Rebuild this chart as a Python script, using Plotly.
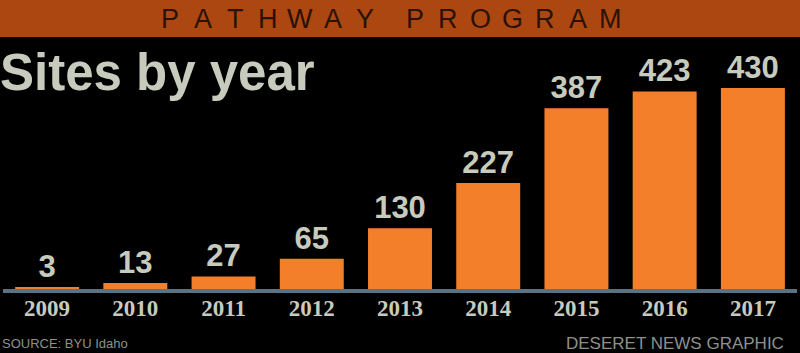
import plotly.graph_objects as go

# ---- data ----
years = ["2009", "2010", "2011", "2012", "2013", "2014", "2015", "2016", "2017"]
sites = [3, 13, 27, 65, 130, 227, 387, 423, 430]

banner_text = "PATHWAY PROGRAM"
title_text = "Sites by year"
source_text = "SOURCE: BYU Idaho"
credit_text = "DESERET NEWS GRAPHIC"

# ---- styling ----
W, H = 800, 353
ML, MR, MT, MB = 3, 3, 40, 64
BG = "#000000"
BAR = "#f47f2b"
BANNER = "#ad4711"
BANNER_TXT = "#2a1206"
LIGHT = "#c6cbbe"
AXIS = "#5b7380"
SANS = "Liberation Sans, Arial, sans-serif"
SERIF = "Liberation Serif, Times New Roman, serif"

pw = W - ML - MR
ph = H - MT - MB


def px_x(x):
    return (x - ML) / pw


def px_y(y):
    return (H - MB - y) / ph


fig = go.Figure()
fig.add_trace(go.Bar(
    x=years, y=sites,
    marker=dict(color=BAR, line=dict(width=0)),
    text=[str(v) for v in sites],
    textposition="outside",
    textfont=dict(family=SANS, size=31, color=LIGHT, weight="bold"),
    cliponaxis=False,
    hoverinfo="skip",
))

shapes = [
    dict(type="rect", xref="paper", yref="paper",
         x0=px_x(0), x1=px_x(W), y0=px_y(37), y1=px_y(0),
         fillcolor=BANNER, line=dict(width=0), layer="below"),
]

annotations = []
# letter-spaced banner heading (one annotation per letter for tracking)
first_center, pitch, word_extra = 170, 32.5, 17.5
pos = first_center
for ch in banner_text:
    if ch == " ":
        pos += word_extra
        continue
    annotations.append(dict(
        x=px_x(pos), y=px_y(18.5), xref="paper", yref="paper",
        xanchor="center", yanchor="middle", showarrow=False, text=ch,
        font=dict(family=SANS, size=27, color=BANNER_TXT)))
    pos += pitch

annotations += [
    dict(x=px_x(-2), y=px_y(42), xref="paper", yref="paper",
         xanchor="left", yanchor="top", showarrow=False, text=title_text,
         font=dict(family=SANS, size=51, color=LIGHT, weight="bold")),
    dict(x=px_x(0), y=px_y(343), xref="paper", yref="paper",
         xanchor="left", yanchor="middle", showarrow=False, text=source_text,
         font=dict(family=SANS, size=13, color="#8e918a")),
    dict(x=px_x(786), y=px_y(343), xref="paper", yref="paper",
         xanchor="right", yanchor="middle", showarrow=False, text=credit_text,
         font=dict(family=SANS, size=17, color="#8e918a")),
]

fig.update_layout(
    width=W, height=H,
    margin=dict(l=ML, r=MR, t=MT, b=MB, pad=0),
    paper_bgcolor=BG, plot_bgcolor=BG,
    bargap=0.275,
    showlegend=False,
    shapes=shapes,
    annotations=annotations,
    xaxis=dict(
        type="category", range=[-0.5, 8.5],
        showgrid=False, zeroline=False,
        showline=True, linecolor=AXIS, linewidth=4,
        ticks="", ticklabelstandoff=-5,
        tickfont=dict(family=SERIF, size=23, color=LIGHT, weight="bold"),
        fixedrange=True,
    ),
    yaxis=dict(
        range=[0, 533], visible=False, showgrid=False, zeroline=False,
        fixedrange=True,
    ),
)

fig.write_html("out.html", config={"displayModeBar": False})
